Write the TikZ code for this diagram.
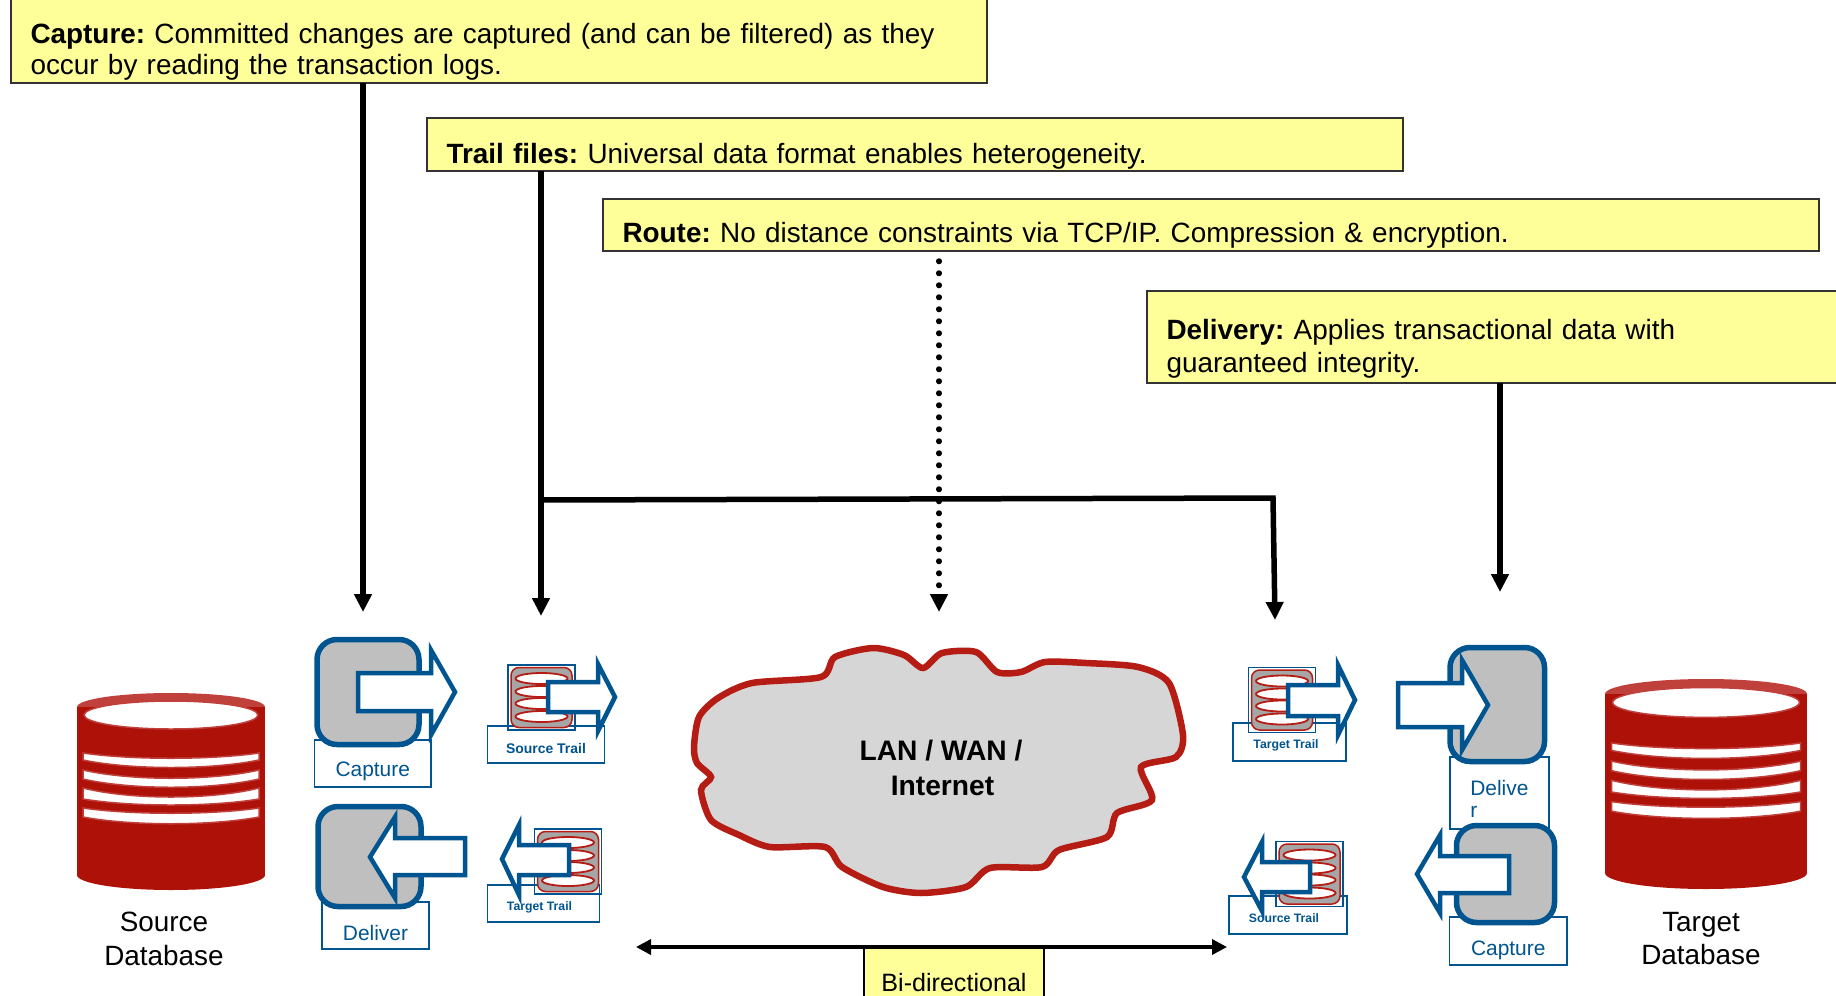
\documentclass[tikz,border=0pt]{standalone}
\usepackage{fontspec}
\setmainfont{Liberation Sans}
\usetikzlibrary{arrows.meta}
\definecolor{noteyellow}{HTML}{FFFF99}
\definecolor{procblue}{HTML}{00548F}
\definecolor{procgray}{HTML}{BFBFBF}
\definecolor{dbred}{HTML}{AE1108}
\definecolor{dbline}{HTML}{C0403C}
\definecolor{cloudred}{HTML}{B51C14}

\begin{document}
\frenchspacing
\begin{tikzpicture}[x=1bp,y=-1bp,
  note/.style={draw=black!80,fill=noteyellow,line width=1.5bp,anchor=north west,align=left,
    inner xsep=19.5bp,inner ysep=0bp,outer sep=0bp,font=\fontsize{28}{31}\selectfont},
  callout/.style={line width=5.5bp,-{Triangle[width=17bp,length=18bp]}},
  dotline/.style={line width=5.5bp,line cap=round,dash pattern=on 0.5bp off 11.5bp,shorten <=10bp,
    -{Triangle[width=17bp,length=18bp]}},
  proc/.style={draw=procblue,fill=procgray,line width=5.5bp,rounded corners=20bp,anchor=north west,
    inner sep=0bp,outer sep=0bp},
  tag/.style={draw=procblue,fill=white,text=procblue,line width=1.5bp,anchor=north west,
    inner sep=0bp,outer sep=0bp,font=\fontsize{21}{23}\selectfont},
  smalltag/.style={tag,font=\fontsize{12.3}{14}\selectfont\bfseries},
  flow/.style={draw=procblue,fill=white,line width=4.5bp,miter limit=10},
  iconframe/.style={draw=procblue,line width=1.5bp,minimum width=67bp,minimum height=65bp,
    inner sep=0bp,outer sep=0bp},
  icongray/.style={draw=cloudred,fill=black!35,line width=1.5bp,rounded corners=8bp,minimum width=61bp,
    minimum height=60bp,inner sep=0bp},
  coil/.style={draw=cloudred,fill=white,line width=1.8bp},
  band/.style={draw=dbline,fill=white,line width=1.5bp},
  dblabel/.style={align=center,font=\fontsize{28}{34}\selectfont}]

  \useasboundingbox (0,0) rectangle (1836,995);

  % databases
  \foreach \sx/\sy/\xs/\ys in {171/693/1/1,1706/679/1.074/1.066}{
    \begin{scope}[shift={(\sx,\sy)},xscale=\xs,yscale=\ys]
      \fill[dbline] (0,14) ellipse (94 and 14);
      \fill[dbred] (0,182) ellipse (94 and 15);
      \fill[dbred] (-94,14) rectangle (94,182);
      \draw[band] (0,22) ellipse (87 and 14);
      \foreach \ts/\ta/\bs/\ba in {60/7/67/10,77/11/86/11,95/12/106/8,115/7/124/9}
        \draw[band] (-88,\ts) .. controls (-40,\ts+\ta) and (40,\ts+\ta) .. (88,\ts)
          -- (88,\bs) .. controls (40,\bs+\ba) and (-40,\bs+\ba) .. (-88,\bs) -- cycle;
    \end{scope}
  }
  \node[dblabel] (srcdb) at (164,938.5) {Source\\Database};
  \node[dblabel] (tgtdb) at (1701,938.5) {Target\\Database};

  % cloud
  \draw[draw=cloudred,fill=black!16,line width=6.5bp,smooth cycle,tension=.45] plot coordinates {
    (694,747) (699,717) (718,698) (752,683) (821,677) (835,657) (873,648) (904,655) (923,668)
    (942,653) (976,652) (997,672) (1021,672) (1045,662) (1086,663) (1138,667) (1169,683)
    (1183,735) (1176,757) (1141,767) (1152,800) (1117,813) (1107,837) (1059,850) (1042,867)
    (990,868) (966,887) (921,893) (883,887) (842,867) (825,847) (770,847) (739,835) (711,820)
    (701,790) (711,777) (697,763)};
  \node[align=center,font=\fontsize{28.3}{35}\selectfont\bfseries] (wan) at (941,768) {LAN / WAN /\\\hspace*{3bp}Internet};

  % left side
  \node[tag,minimum width=116.5bp,minimum height=47bp,text height=36bp,text depth=11bp] (capl) at (314.5,740) {Capture};
  \node[proc,minimum width=102bp,minimum height=105bp] (capb) at (317,639.5) {};
  \draw[flow] (358,673) -- (431,673) -- (431,650) -- (455,692) -- (431,735) -- (431,711) -- (358,711) -- cycle;
  \node[tag,minimum width=107bp,minimum height=47bp,text height=38.7bp,text depth=8.3bp] (dell) at (322,902) {Deliver};
  \node[proc,minimum width=103bp,minimum height=100bp] (delb) at (318,806.5) {};
  \draw[flow] (465,838) -- (395,838) -- (395,817) -- (370,857) -- (395,898) -- (395,875) -- (465,875) -- cycle;

  \node[tag,font=\fontsize{14}{16}\selectfont\bfseries,minimum width=117bp,minimum height=37bp,text height=27bp,text depth=10bp] (strl) at (487.5,726) {Source Trail};
  \node[smalltag,minimum width=112bp,minimum height=37bp,text height=25bp,text depth=12bp] (ttrl) at (487.5,885) {\hspace*{-8bp}Target Trail};

  % right side
  \node[smalltag,minimum width=113bp,minimum height=38bp,text height=25bp,text depth=13bp] (ttrr) at (1233,723) {\hspace*{-7bp}Target Trail};
  \node[smalltag,minimum width=118bp,minimum height=38bp,text height=26bp,text depth=12bp] (strr) at (1229,896) {\hspace*{-8bp}Source Trail};

  % trail icons
  \foreach \nm/\cx/\cy in {iconsl/541.5/697.5,icontl/568/861.5,icontr/1282/700,iconsr/1309.5/874}{
    \node[iconframe] (\nm) at (\cx,\cy) {};
    \node[icongray] (\nm g) at (\cx,\cy) {};
    \foreach \dy in {-19,-6,6,19}
      \draw[coil] (\cx,\cy+\dy) ellipse (26 and 5.5);
  }
  \draw[flow] (548,682) -- (598,682) -- (598,664) -- (615,697) -- (598,731) -- (598,712) -- (548,712) -- cycle;
  \draw[flow] (569,845) -- (519,845) -- (519,825) -- (502,859) -- (519,895) -- (519,875) -- (569,875) -- cycle;
  \draw[flow] (1288,685) -- (1338,685) -- (1338,665) -- (1355,700) -- (1338,735) -- (1338,716) -- (1288,716) -- cycle;
  \draw[flow] (1310,862) -- (1262,862) -- (1262,842) -- (1244,877) -- (1262,911) -- (1262,892) -- (1310,892) -- cycle;

  \node[tag,align=left,text width=58.5bp,inner xsep=20.25bp,minimum height=72bp,text height=38bp,text depth=34bp] (delr) at (1450,757) {Delive\\r};
  \node[proc,minimum width=94.5bp,minimum height=114bp] (delrb) at (1450,647.5) {};
  \draw[flow] (1398,683) -- (1462,683) -- (1462,660) -- (1488,705) -- (1462,750) -- (1462,727) -- (1398,727) -- cycle;
  \node[tag,minimum width=117.5bp,minimum height=48bp,text height=38bp,text depth=10bp] (caprl) at (1449.5,917) {Capture};
  \node[proc,minimum width=98bp,minimum height=97bp] (caprb) at (1456.5,825.5) {};
  \draw[flow] (1509,856) -- (1440,856) -- (1440,835) -- (1417,874) -- (1440,913) -- (1440,893) -- (1509,893) -- cycle;

  % notes
  \node[note,text width=937bp] (capn) at (11,-40) {\rule{0bp}{83bp}\textbf{Capture:} Committed changes are captured (and can be filtered) as they\\[1bp]occur by reading the transaction logs.\rule[-8bp]{0bp}{0bp}};
  \node[note,text width=937bp] (trln) at (427,118) {\rule[-8bp]{0bp}{53bp}\textbf{Trail files:} Universal data format enables heterogeneity.};
  \node[note,text width=1177bp] (rten) at (603,199) {\rule[-9bp]{0bp}{52bp}\textbf{Route:} No distance constraints via TCP/IP. Compression \& encryption.};
  \node[note,text width=654bp] (dlvn) at (1147,291) {\rule{0bp}{48bp}\textbf{Delivery:} Applies transactional data with\\[3bp]guaranteed integrity.\rule[-10bp]{0bp}{0bp}};
  \node[note,draw=black,text width=170bp,inner xsep=5bp,align=center,font=\fontsize{25.2}{31}\selectfont] (bidn) at (864,948) {\rule[-20bp]{0bp}{63bp}Bi-directional};

  \coordinate (capend) at (363,612);
  \coordinate (trlend) at (541,616);
  \coordinate (rteend) at (939,612);
  \coordinate (dlvend) at (1500,592);
  \coordinate (branch) at (541,500);
  \coordinate (bend)   at (1273,498);
  \coordinate (tgtend) at (1275,620);
  \coordinate (bileft) at (636,947);
  \coordinate (biright) at (1227,947);

  \path[callout]
    (capn.south -| capend) edge (capend)
    (trln.south -| trlend) edge (trlend)
    (dlvn.south -| dlvend) edge (dlvend);
  \path[dotline] (rten.south -| rteend) edge (rteend);
  \draw[callout] (branch) -- (bend) -- (tgtend);
  \draw[line width=3.5bp,{Triangle[width=15bp,length=15bp]}-{Triangle[width=15bp,length=15bp]}] (bileft) -- (biright);
\end{tikzpicture}
\end{document}
